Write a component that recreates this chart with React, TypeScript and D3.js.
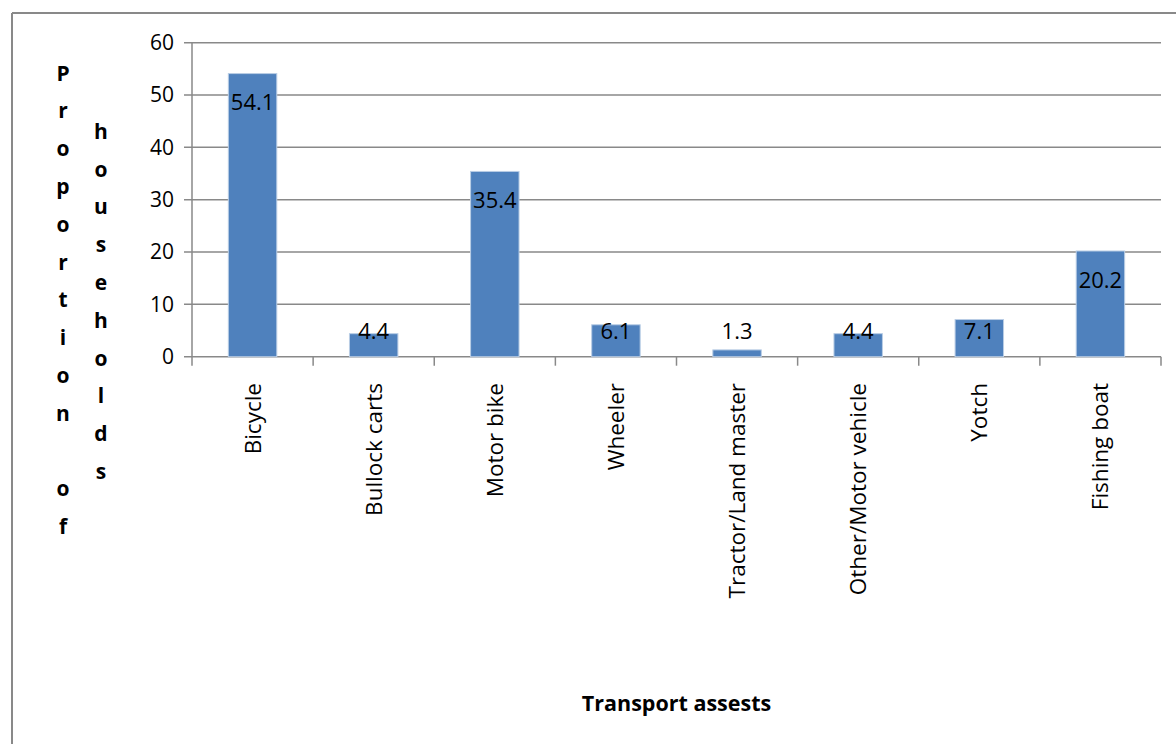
import React from "react";
import * as d3 from "d3";

const categories = [
  "Bicycle",
  "Bullock carts",
  "Motor bike",
  "Wheeler",
  "Tractor/Land master",
  "Other/Motor vehicle",
  "Yotch",
  "Fishing boat",
];
const values = [54.1, 4.4, 35.4, 6.1, 1.3, 4.4, 7.1, 20.2];
const yTicks = [0, 10, 20, 30, 40, 50, 60];
const yTitleCol1 = "Proportion of";
const yTitleCol2 = "households";
const xTitle = "Transport assests";

const W = 1176;
const H = 744;
const plot = { left: 192, right: 1161, top: 42.7, bottom: 356.7 };
const FONT = "'Open Sans', sans-serif";
const GRID = "#898989";

export default function App() {
  const x = d3
    .scaleBand<string>()
    .domain(categories)
    .range([plot.left, plot.right])
    .paddingInner(0)
    .paddingOuter(0);
  const y = d3.scaleLinear().domain([0, 60]).range([plot.bottom, plot.top]);
  const bw = x.bandwidth() * 0.4;
  const boundaries = categories.map((c) => x(c) as number).concat([plot.right]);

  return (
    <svg
      width={W}
      height={H}
      style={{ position: "absolute", left: 0, top: 0, background: "#fff" }}
      fontFamily={FONT}
    >
      {/* outer frame */}
      <line x1={12} y1={13} x2={W} y2={13} stroke={GRID} strokeWidth={2} />
      <line x1={12} y1={13} x2={12} y2={H} stroke={GRID} strokeWidth={2} />

      {/* gridlines + y ticks */}
      {yTicks.map((t) => (
        <g key={t}>
          <line
            x1={plot.left - 8}
            x2={plot.right}
            y1={y(t)}
            y2={y(t)}
            stroke={GRID}
            strokeWidth={1.5}
          />
          <text
            x={plot.left - 18}
            y={y(t)}
            dy="0.35em"
            textAnchor="end"
            fontSize={21}
            fill="#000"
          >
            {t}
          </text>
        </g>
      ))}
      {/* y axis */}
      <line x1={plot.left} x2={plot.left} y1={plot.top} y2={plot.bottom} stroke={GRID} strokeWidth={1.5} />
      {/* x tick marks */}
      {boundaries.map((b, i) => (
        <line key={i} x1={b} x2={b} y1={plot.bottom} y2={plot.bottom + 9} stroke={GRID} strokeWidth={1.5} />
      ))}

      {/* bars */}
      {categories.map((c, i) => {
        const cx = (x(c) as number) + x.bandwidth() / 2;
        const top = y(values[i]);
        return (
          <rect
            key={c}
            x={cx - bw / 2}
            y={top}
            width={bw}
            height={plot.bottom - top}
            fill="#4F81BD"
            stroke="#B9CDE5"
            strokeWidth={1}
          />
        );
      })}

      {/* data labels */}
      {categories.map((c, i) => {
        const cx = (x(c) as number) + x.bandwidth() / 2;
        const ly = Math.min(y(values[i]) + 29, 331);
        return (
          <text key={c} x={cx} y={ly} dy="0.35em" textAnchor="middle" fontSize={22} fill="#000">
            {values[i].toFixed(1)}
          </text>
        );
      })}

      {/* category labels */}
      {categories.map((c) => {
        const cx = (x(c) as number) + x.bandwidth() / 2;
        return (
          <text
            key={c}
            transform={`translate(${cx + 8},383) rotate(-90)`}
            textAnchor="end"
            fontSize={22.5}
            fill="#000"
          >
            {c}
          </text>
        );
      })}

      {/* y axis title (stacked letters) */}
      {yTitleCol1.split("").map((ch, i) => (
        <text
          key={"a" + i}
          x={63}
          y={73.3 + i * 37.8}
          dy="0.35em"
          textAnchor="middle"
          fontSize={21}
          fontWeight="bold"
          fill="#000"
        >
          {ch}
        </text>
      ))}
      {yTitleCol2.split("").map((ch, i) => (
        <text
          key={"b" + i}
          x={101}
          y={131.5 + i * 37.8}
          dy="0.35em"
          textAnchor="middle"
          fontSize={21}
          fontWeight="bold"
          fill="#000"
        >
          {ch}
        </text>
      ))}

      {/* x axis title */}
      <text
        x={(plot.left + plot.right) / 2}
        y={703}
        dy="0.35em"
        textAnchor="middle"
        fontSize={21.5}
        fontWeight="bold"
        fill="#000"
      >
        {xTitle}
      </text>
    </svg>
  );
}
